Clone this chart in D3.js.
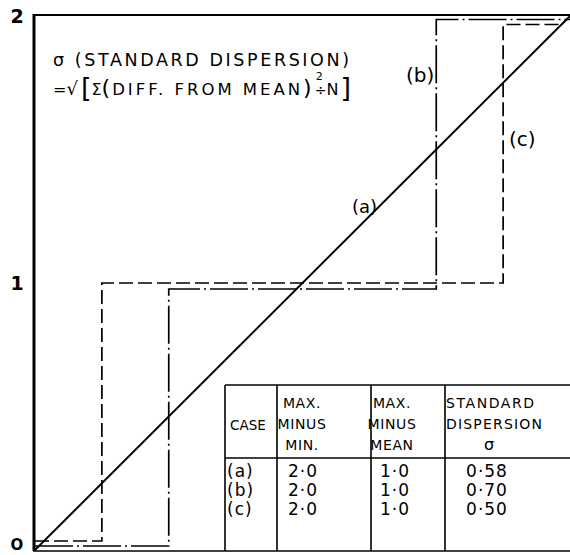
<!DOCTYPE html>
<html><head><meta charset="utf-8">
<script src="https://cdn.jsdelivr.net/npm/d3@7"></script>
<style>
html,body{margin:0;padding:0;background:#fff;}
svg{display:block;}
text{font-family:"DejaVu Sans",sans-serif;fill:#000;}
</style></head>
<body>
<script>
// ---------- data ----------
const yTicks = [0, 1, 2];
const levels = [0, 1, 2];
const caseA = [[0, 0], [2, 2]];
const caseBBreaks = [0.5, 1.5];
const caseCBreaks = [0.25, 1.75];
const tableCases = ["(a)", "(b)", "(c)"];
const maxMinusMin = ["2·0", "2·0", "2·0"];
const maxMinusMean = ["1·0", "1·0", "1·0"];
const stdDispersion = ["0·58", "0·70", "0·50"];
const headerCase = ["CASE"];
const headerMaxMin = ["MAX.", "MINUS", "MIN."];
const headerMaxMean = ["MAX.", "MINUS", "MEAN"];
const headerSigma = ["STANDARD", "DISPERSION", "σ"];

// ---------- layout ----------
const W = 570, H = 555;
const svg = d3.select("body").append("svg").attr("width", W).attr("height", H);
const x = d3.scaleLinear().domain([0, 2]).range([35, 570]);
const y = d3.scaleLinear().domain([0, 2]).range([550, 16]);

// frame
svg.append("line").attr("x1", 34).attr("x2", 34).attr("y1", 14).attr("y2", 551)
  .attr("stroke", "#000").attr("stroke-width", 3);
svg.append("line").attr("x1", 33).attr("x2", 570).attr("y1", 15).attr("y2", 15)
  .attr("stroke", "#000").attr("stroke-width", 2);
svg.append("line").attr("x1", 33).attr("x2", 570).attr("y1", 551).attr("y2", 551)
  .attr("stroke", "#000").attr("stroke-width", 1.6);

// y tick labels
svg.selectAll("text.tick").data(yTicks).enter().append("text")
  .attr("class", "tick")
  .attr("x", 17).attr("y", d => d === 0 ? 550 : y(d) + 7)
  .attr("text-anchor", "middle")
  .style("font-size", d => d === 0 ? "15px" : "19px").style("font-weight", "bold")
  .text(d => d === 0 ? "O" : d);

// diagonal (a)
const line = d3.line().x(d => x(d[0])).y(d => y(d[1]));
svg.append("path").datum(caseA).attr("d", line)
  .attr("fill", "none").attr("stroke", "#000").attr("stroke-width", 2);

// step lines
function stepPts(br) {
  return [[0, levels[0], 0], [br[0], levels[0], 0], [br[0], levels[1], 1],
          [br[1], levels[1], 1], [br[1], levels[2], 2], [2, levels[2], 2]];
}
function drawStep(br, nudge, dash, endOnDiag) {
  const pts = stepPts(br).map(p => [x(p[0]), y(p[1]) + nudge[p[2]]]);
  if (endOnDiag) {
    const yy = pts[5][1];
    pts[5][0] = x(y.invert(yy)) - 2;
  }
  svg.append("path").attr("d", d3.line()(pts))
    .attr("fill", "none").attr("stroke", "#000").attr("stroke-width", 1.7)
    .attr("stroke-dasharray", dash);
}
drawStep(caseBBreaks, [-4, 6, 3.5], "38,4,2,4", false);
drawStep(caseCBreaks, [-9, 0, 8.5], "14,5", true);

// labels
function lab(t, px, py, fs) {
  svg.append("text").attr("x", px).attr("y", py).style("font-size", fs + "px").text(t);
}
lab("(b)", 406, 82, 20);
lab("(c)", 509, 146, 20);
lab("(a)", 352, 213, 18);

// formula text
svg.append("text").attr("x", 53).attr("y", 66).style("font-size", "17.5px")
  .attr("textLength", 296).attr("lengthAdjust", "spacing")
  .text("σ (STANDARD DISPERSION)");
const f = svg.append("text").attr("x", 53).attr("y", 95).style("font-size", "16px");
f.append("tspan").text("=");
f.append("tspan").style("font-size", "18px").text("√");
f.append("tspan").attr("dx", 3).style("font-size", "27px").attr("dy", 2).text("[");
f.append("tspan").style("font-size", "16px").attr("dy", -2).text("Σ");
f.append("tspan").style("font-size", "22px").text("(");
f.append("tspan").attr("dx", 2).attr("textLength", 188).attr("lengthAdjust", "spacing")
  .style("font-size", "16.5px").text("DIFF. FROM MEAN");
f.append("tspan").style("font-size", "22px").text(")");
f.append("tspan").attr("dx", 4).attr("dy", -15).style("font-size", "11px").text("2");
f.append("tspan").attr("dx", -8).attr("dy", 15).style("font-size", "14px").text("÷");
f.append("tspan").text("N");
f.append("tspan").attr("dx", 2).style("font-size", "27px").attr("dy", 2).text("]");

// ---------- table ----------
const colX = [225, 277, 371, 445];
const tTop = 385, tMid = 458, tBot = 551;
const g = svg.append("g").attr("stroke", "#000").attr("stroke-width", 1.6);
g.append("line").attr("x1", colX[0]).attr("x2", 570).attr("y1", tTop).attr("y2", tTop);
g.append("line").attr("x1", colX[0]).attr("x2", 570).attr("y1", tMid).attr("y2", tMid);
colX.forEach(cx => g.append("line").attr("x1", cx).attr("x2", cx).attr("y1", tTop).attr("y2", tBot));

const hy = [408, 429, 450];
function hcol(arr, cx) {
  arr.forEach((t, i) => svg.append("text").attr("x", cx).attr("y", hy[i])
    .attr("text-anchor", "middle").style("font-size", "14px").style("letter-spacing", "0.6px").text(t));
}
svg.append("text").attr("x", 248).attr("y", 430).attr("text-anchor", "middle")
  .style("font-size", "13.5px").text(headerCase[0]);
hcol(headerMaxMin, 302);
hcol(headerMaxMean, 392);
svg.append("text").attr("x", 446).attr("y", hy[0]).style("font-size", "14px")
  .attr("textLength", 88).attr("lengthAdjust", "spacing").text(headerSigma[0]);
svg.append("text").attr("x", 446).attr("y", hy[1]).style("font-size", "14px")
  .attr("textLength", 96).attr("lengthAdjust", "spacing").text(headerSigma[1]);
svg.append("text").attr("x", 489).attr("y", hy[2]).attr("text-anchor", "middle")
  .style("font-size", "16px").text(headerSigma[2]);

const ry = [477, 496, 515];
function dcol(arr, cx, anchor) {
  arr.forEach((t, i) => svg.append("text").attr("x", cx).attr("y", ry[i])
    .attr("text-anchor", anchor).style("font-size", "17px").style("letter-spacing", "1px").text(t));
}
dcol(tableCases, 227, "start");
dcol(maxMinusMin, 303, "middle");
dcol(maxMinusMean, 395, "middle");
dcol(stdDispersion, 487, "middle");
</script>
</body></html>
